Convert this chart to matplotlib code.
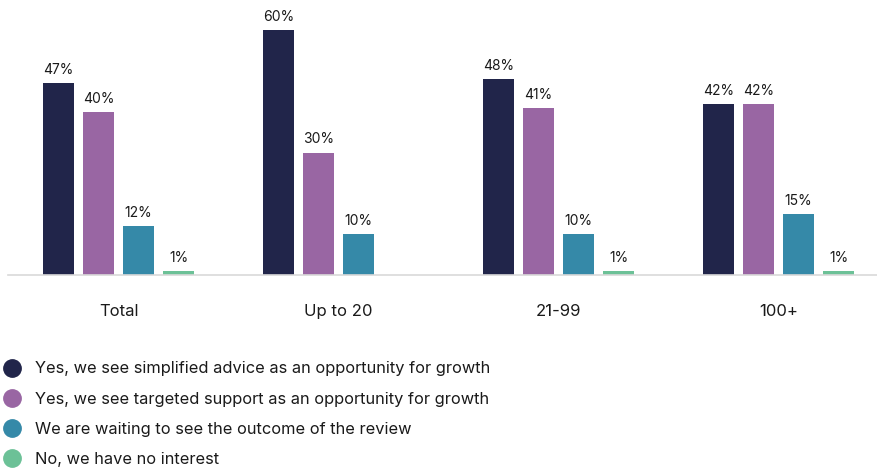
import numpy as np
import matplotlib
matplotlib.use('Agg')
import matplotlib.pyplot as plt
from matplotlib.lines import Line2D

plt.rcParams['font.family'] = ['Inter', 'DejaVu Sans']

groups = ['Total', 'Up to 20', '21-99', '100+']
series = [
    'Yes, we see simplified advice as an opportunity for growth',
    'Yes, we see targeted support as an opportunity for growth',
    'We are waiting to see the outcome of the review',
    'No, we have no interest',
]
simplified = [47, 60, 48, 42]
targeted = [40, 30, 41, 42]
waiting = [12, 10, 10, 15]
no_interest = [1, 0, 1, 1]
colors = ['#21254a', '#9966a3', '#3589a8', '#6cc197']

values = [simplified, targeted, waiting, no_interest]

fig = plt.figure(figsize=(8.77, 4.68), dpi=100)
ax = fig.add_axes([8 / 877, 0.4124, 869 / 877, 0.5876])

x = np.arange(len(groups))
width = 0.141
step = 0.182
for i, (vals, col) in enumerate(zip(values, colors)):
    pos = x + (i - 1.5) * step
    for p, v in zip(pos, vals):
        if v == 0:
            continue
        ax.bar(p, v, width=width, color=col)
        ax.text(p, v + 1.5, f'{v}%', ha='center', va='bottom',
                fontsize=10, color='#1a1a1a')

ax.set_xlim(-0.503, 3.447)
ax.set_ylim(0, 67.4)
ax.set_xticks(x)
ax.set_xticklabels(groups, fontsize=12, color='#1a1a1a')
ax.tick_params(axis='x', length=0, pad=21)
ax.set_yticks([])
for side in ['top', 'right', 'left']:
    ax.spines[side].set_visible(False)
ax.spines['bottom'].set_color('#d9d9d9')
ax.spines['bottom'].set_linewidth(1.2)

handles = [Line2D([], [], marker='o', linestyle='', markersize=12.5,
                  markerfacecolor=c, markeredgecolor=c) for c in colors]
fig.legend(handles, series, loc='upper left', bbox_to_anchor=(0.0025, 0.2276),
           frameon=False, fontsize=11.8, handletextpad=0.78, labelspacing=0.92,
           handlelength=1.2, borderaxespad=0, borderpad=0,
           labelcolor='#1a1a1a')

fig.savefig('out.png', dpi=100)
